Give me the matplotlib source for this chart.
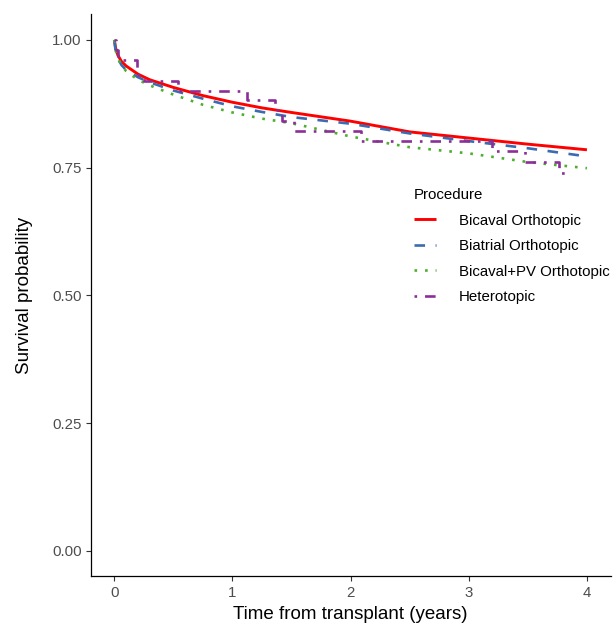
import matplotlib

matplotlib.use("Agg")
import matplotlib.pyplot as plt

plt.rcParams["font.family"] = ["Liberation Sans", "DejaVu Sans"]

# survival curves (time in years, survival probability)
TIME = [0, 0.01, 0.03, 0.06, 0.1, 0.2, 0.3, 0.5, 0.75, 1.0, 1.25, 1.5, 2.0, 2.5, 3.0, 3.5, 4.0]
BICAVAL = [1.0, 0.985, 0.970, 0.958, 0.949, 0.933, 0.922, 0.907, 0.891, 0.878, 0.867, 0.858, 0.841, 0.820, 0.808, 0.796, 0.785]
BIATRIAL = [1.0, 0.980, 0.964, 0.951, 0.941, 0.927, 0.917, 0.901, 0.885, 0.870, 0.859, 0.849, 0.836, 0.817, 0.802, 0.788, 0.772]
BICAVAL_PV = [1.0, 0.980, 0.964, 0.950, 0.939, 0.922, 0.911, 0.893, 0.873, 0.858, 0.846, 0.837, 0.811, 0.790, 0.778, 0.761, 0.749]

# heterotopic: step function (event times, survival after each step)
HET_TIME = [0, 0.01, 0.03, 0.19, 0.25, 0.54, 1.12, 1.36, 1.42, 1.52, 2.09, 3.20, 3.48, 3.76, 3.83]
HET_SURV = [1.0, 0.980, 0.960, 0.931, 0.920, 0.901, 0.882, 0.862, 0.842, 0.822, 0.803, 0.783, 0.762, 0.740, 0.740]

LABELS = ["Bicaval Orthotopic", "Biatrial Orthotopic", "Bicaval+PV Orthotopic", "Heterotopic"]
COLORS = ["#FF0000", "#3B6BB0", "#4DAF2F", "#8B2F98"]

fig = plt.figure(figsize=(6.13, 6.33), dpi=100)
ax = fig.add_axes([0.148, 0.0893, 0.848, 0.888])

lw = 1.9
ax.plot(TIME, BICAVAL, color=COLORS[0], lw=lw + 0.2, solid_capstyle="butt", label=LABELS[0])
ax.plot(TIME, BIATRIAL, color=COLORS[1], lw=lw, dashes=(4, 4), dash_capstyle="butt", label=LABELS[1])
ax.plot(TIME, BICAVAL_PV, color=COLORS[2], lw=lw, dashes=(1, 3), dash_capstyle="butt", label=LABELS[2])
ax.step(HET_TIME, HET_SURV, where="post", color=COLORS[3], lw=lw, dashes=(1, 3, 4, 3),
        dash_capstyle="butt", label=LABELS[3])

ax.set_xlim(-0.2, 4.2)
ax.set_ylim(-0.05, 1.05)
ax.set_xticks([0, 1, 2, 3, 4])
ax.set_yticks([0, 0.25, 0.5, 0.75, 1.0])
ax.set_yticklabels(["0.00", "0.25", "0.50", "0.75", "1.00"])
ax.tick_params(axis="both", direction="out", length=3.5, width=0.8, color="#333333",
               labelsize=10.8, labelcolor="#4D4D4D", pad=3)
for s in ["top", "right"]:
    ax.spines[s].set_visible(False)
for s in ["left", "bottom"]:
    ax.spines[s].set_linewidth(0.9)
    ax.spines[s].set_color("black")

ax.set_xlabel("Time from transplant (years)", fontsize=13.5, labelpad=5)
ax.set_ylabel("Survival probability", fontsize=13.5, labelpad=14)

leg = ax.legend(title="Procedure", loc="upper left", bbox_to_anchor=(408 / 613, 1 - 182 / 633),
                bbox_transform=fig.transFigure, frameon=False, fontsize=10.8,
                title_fontsize=10.8, handlelength=1.45, handletextpad=1.55,
                labelspacing=0.77, borderaxespad=0)
leg._legend_box.align = "left"

fig.savefig("out.png", dpi=100)
